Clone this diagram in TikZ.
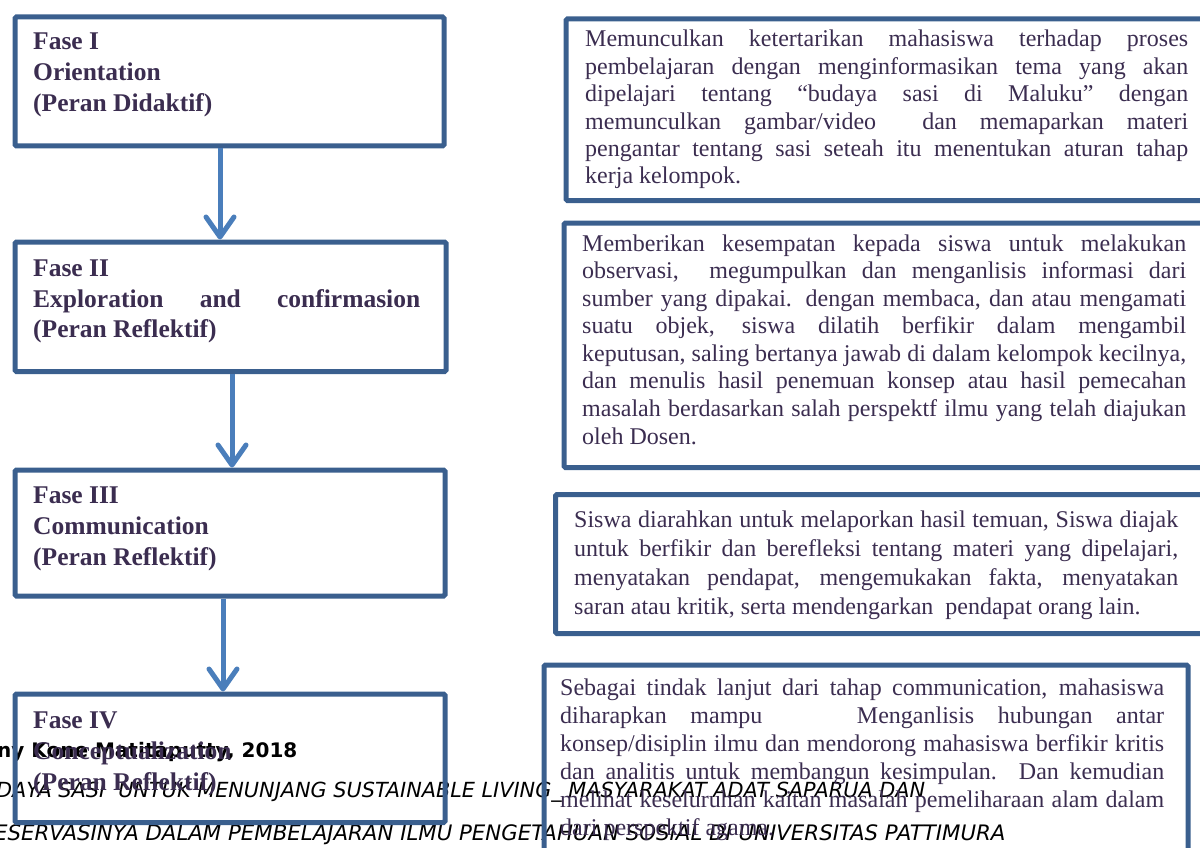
\documentclass[tikz,border=0pt]{standalone}
\usepackage{fontspec}
\setmainfont{Liberation Serif}
\newfontfamily\footfont{DejaVu Sans}
\usetikzlibrary{arrows.meta}
\definecolor{boxc}{RGB}{58,95,142}
\definecolor{arrc}{RGB}{74,126,187}
\definecolor{txtc}{RGB}{59,45,80}
\tikzset{
  framebox/.style={draw=boxc, line width=5pt, rounded corners=1.5pt, inner sep=0pt, anchor=north west},
  phasetxt/.style={inner sep=0pt, anchor=base west, text=txtc, font=\fontsize{25.5}{31}\selectfont\bfseries},
  desctxt/.style={inner sep=0pt, anchor=base west, text=txtc},
  foottxt/.style={inner sep=0pt, anchor=base west, text=black},
  flowarrow/.style={draw=arrc, line width=5pt, -{Straight Barb[length=20pt,width=28pt,round]}}
}
\begin{document}
\begin{tikzpicture}[x=1pt,y=-1pt]
\useasboundingbox (0,0) rectangle (1200,848);
% footer overlay (under the boxes)
\node[foottxt, font=\footfont\bfseries\fontsize{20}{24}\selectfont] (f1) at (-3,757) {ny Kone Matitaputty, 2018};
\node[foottxt, font=\footfont\itshape\fontsize{20.8}{24}\selectfont] (f2) at (-4,797) {DAYA SASI\ \ UNTUK MENUNJANG SUSTAINABLE LIVING\_ MASYARAKAT ADAT SAPARUA DAN};
\node[foottxt, font=\footfont\itshape\fontsize{21.3}{24}\selectfont] (f3) at (-6,840) {ESERVASINYA DALAM PEMBELAJARAN ILMU PENGETAHUAN SOSIAL DI UNIVERSITAS PATTIMURA};
% left boxes
\node[framebox, minimum width=429pt, minimum height=129pt] (L1) at (12.5,14.5) {};
\node[framebox, minimum width=431pt, minimum height=129.5pt] (L2) at (12.5,239.5) {};
\node[framebox, minimum width=430pt, minimum height=126pt] (L3) at (12.5,467.5) {};
\node[framebox, minimum width=430pt, minimum height=128.5pt] (L4) at (12.5,691.5) {};
% right boxes
\node[framebox, minimum width=645pt, minimum height=181.5pt] (R1) at (563.5,16.5) {};
\node[framebox, minimum width=647pt, minimum height=244.5pt] (R2) at (561.5,220.5) {};
\node[framebox, minimum width=655pt, minimum height=139pt] (R3) at (553,492) {};
\node[framebox, minimum width=644pt, minimum height=195pt] (R4) at (541.5,662.5) {};
% phase texts
\node[phasetxt] (p1) at (33,50) {\parbox[t]{400pt}{Fase I\\Orientation\\(Peran Didaktif)}};
\node[phasetxt] (p2) at (33,276) {\parbox[t]{400pt}{Fase II\\\makebox[387pt][s]{Exploration and confirmasion}\\(Peran Reflektif)}};
\node[phasetxt] (p3) at (33,503) {\parbox[t]{400pt}{Fase III\\Communication\\(Peran Reflektif)}};
\node[phasetxt] (p4) at (33,728) {\parbox[t]{400pt}{Fase IV\\Conceptualization\\(Peran Reflektif)}};
% description texts
\node[desctxt] (d1) at (585,47) {\parbox[t]{603pt}{\fontsize{24}{27.4}\selectfont
\makebox[\linewidth][s]{Memunculkan ketertarikan mahasiswa terhadap proses}\\
\makebox[\linewidth][s]{pembelajaran dengan menginformasikan tema yang akan}\\
\makebox[\linewidth][s]{dipelajari tentang “budaya sasi di Maluku” dengan}\\
\makebox[\linewidth][s]{memunculkan gambar/video\ \ dan memaparkan materi}\\
\makebox[\linewidth][s]{pengantar tentang sasi seteah itu menentukan aturan tahap}\\
kerja kelompok.}};
\node[desctxt] (d2) at (582,251) {\parbox[t]{604pt}{\fontsize{24}{27.6}\selectfont
\makebox[\linewidth][s]{Memberikan kesempatan kepada siswa untuk melakukan}\\
\makebox[\linewidth][s]{observasi,\ \ megumpulkan dan menganlisis informasi dari}\\
\makebox[\linewidth][s]{sumber yang dipakai. dengan membaca, dan atau mengamati}\\
\makebox[\linewidth][s]{suatu objek, siswa dilatih berfikir dalam mengambil}\\
\makebox[\linewidth][s]{keputusan, saling bertanya jawab di dalam kelompok kecilnya,}\\
\makebox[\linewidth][s]{dan menulis hasil penemuan konsep atau hasil pemecahan}\\
\makebox[\linewidth][s]{masalah berdasarkan salah perspektf ilmu yang telah diajukan}\\
oleh Dosen.}};
\node[desctxt] (d3) at (574,527) {\parbox[t]{604pt}{\fontsize{24}{29}\selectfont
\makebox[\linewidth][s]{Siswa diarahkan untuk melaporkan hasil temuan, Siswa diajak}\\
\makebox[\linewidth][s]{untuk berfikir dan berefleksi tentang materi yang dipelajari,}\\
\makebox[\linewidth][s]{menyatakan pendapat, mengemukakan fakta, menyatakan}\\
saran atau kritik, serta mendengarkan\ \ pendapat orang lain.}};
\node[desctxt] (d4) at (560,695) {\parbox[t]{604pt}{\fontsize{24}{28}\selectfont
\makebox[\linewidth][s]{Sebagai tindak lanjut dari tahap communication, mahasiswa}\\
\makebox[\linewidth][s]{diharapkan mampu\ \ \ \ Menganlisis hubungan antar}\\
\makebox[\linewidth][s]{konsep/disiplin ilmu dan mendorong mahasiswa berfikir kritis}\\
\makebox[\linewidth][s]{dan analitis untuk membangun kesimpulan. Dan kemudian}\\
\makebox[\linewidth][s]{melihat keseluruhan kaitan masalah pemeliharaan alam dalam}\\
dari perspektif agama.}};
% arrows
\coordinate (a1) at (220,0);
\coordinate (a2) at (232,0);
\coordinate (a3) at (223,0);
\draw[flowarrow] (a1 |- L1.south) -- (a1 |- L2.north);
\draw[flowarrow] (a2 |- L2.south) -- (a2 |- L3.north);
\draw[flowarrow] (a3 |- L3.south) -- (a3 |- L4.north);
\end{tikzpicture}
\end{document}
